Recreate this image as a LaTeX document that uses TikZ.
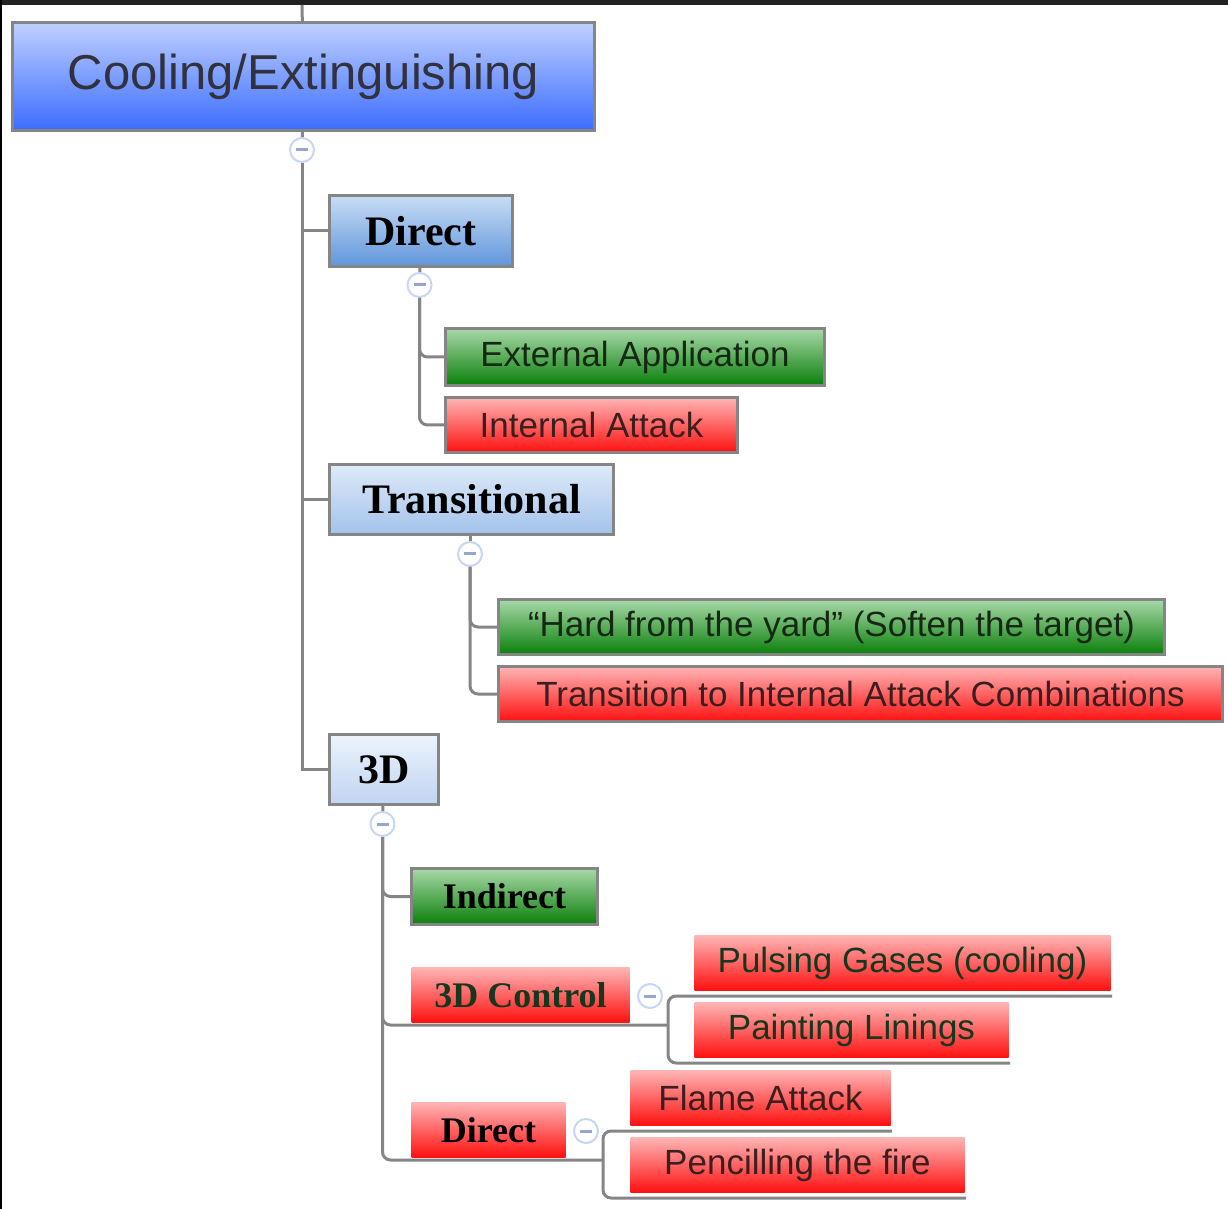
\documentclass[tikz,border=0pt]{standalone}
\usepackage{fontspec}
\setmainfont{Liberation Serif}
\setsansfont{Liberation Sans}
\usepackage{xcolor}
\definecolor{linkgray}{RGB}{133,133,133}
\definecolor{framedark}{RGB}{34,34,34}
\definecolor{roottop}{RGB}{192,208,255}
\definecolor{rootbot}{RGB}{58,108,255}
\definecolor{roottext}{RGB}{50,50,62}
\definecolor{dirtop}{RGB}{200,220,244}
\definecolor{dirbot}{RGB}{96,150,220}
\definecolor{transtop}{RGB}{222,234,248}
\definecolor{transbot}{RGB}{164,194,236}
\definecolor{tdtop}{RGB}{236,243,252}
\definecolor{tdbot}{RGB}{192,212,242}
\definecolor{greentop}{RGB}{168,216,168}
\definecolor{greenbot}{RGB}{10,128,10}
\definecolor{redtop}{RGB}{255,180,180}
\definecolor{redbot}{RGB}{255,16,16}
\definecolor{greentext}{RGB}{20,40,20}
\definecolor{redtext}{RGB}{60,30,30}
\definecolor{darkgreentext}{RGB}{20,55,30}
\definecolor{togglerim}{RGB}{200,214,245}
\definecolor{minusblue}{RGB}{150,165,210}
\tikzset{
    box/.style={draw=linkgray, line width=1.5pt, anchor=north west, inner sep=0pt},
    rootbox/.style={box, top color=roottop, bottom color=rootbot, text=roottext,
        font=\sffamily\fontsize{24.5}{28}\selectfont},
    bluebox/.style 2 args={box, top color=#1, bottom color=#2,
        font=\bfseries\fontsize{21}{24}\selectfont},
    greenbox/.style={box, top color=greentop, bottom color=greenbot, text=greentext},
    redbox/.style={box, top color=redtop, bottom color=redbot, text=redtext},
    flatred/.style={redbox, draw=none},
    itemtext/.style={font=\sffamily\fontsize{17.5}{20}\selectfont},
    headtext/.style={font=\bfseries\fontsize{18}{21}\selectfont},
    link/.style={draw=linkgray, line width=1.5pt},
    toggle/.style={circle, draw=togglerim, fill=white, line width=1pt,
        minimum size=12pt, inner sep=0pt},
    minusbar/.style={draw=minusblue, line width=1.5pt}
}

\begin{document}
\begin{tikzpicture}[x=0.5pt, y=-0.5pt]
    \useasboundingbox (0,0) rectangle (1228,1209);
    \fill[framedark] (0,0) rectangle (1228,5);
    \fill[black] (0,0) rectangle (2,1209);

    % boxes
    \node[rootbox, minimum width=291pt, minimum height=54pt] (root) at (11,21) {Cooling/Extinguishing};
    \node[bluebox={dirtop}{dirbot}, minimum width=91.5pt, minimum height=35.5pt] (direct) at (328,194) {Direct};
    \node[bluebox={transtop}{transbot}, minimum width=142pt, minimum height=35pt] (trans) at (328,463) {Transitional};
    \node[bluebox={tdtop}{tdbot}, minimum width=54.5pt, minimum height=35pt] (threed) at (328,733) {3D};
    \node[greenbox, itemtext, minimum width=189.5pt, minimum height=28.5pt] (extapp) at (444,327) {External Application};
    \node[redbox, itemtext, minimum width=146pt, minimum height=27.5pt] (intatt) at (444,396) {Internal Attack};
    \node[greenbox, itemtext, minimum width=333pt, minimum height=27.5pt] (hard) at (497,598) {“Hard from the yard” (Soften the target)};
    \node[redbox, itemtext, minimum width=362pt, minimum height=27.5pt] (transint) at (497,665) {Transition to Internal Attack Combinations};
    \node[greenbox, headtext, text=black, minimum width=93pt, minimum height=28pt] (indirect) at (410,867) {Indirect};
    \node[flatred, headtext, text=darkgreentext, minimum width=109pt, minimum height=27.5pt] (ctrl) at (410,966) {3D Control};
    \node[flatred, itemtext, text=darkgreentext, minimum width=208pt, minimum height=27.5pt] (pulse) at (693,934) {Pulsing Gases (cooling)};
    \node[flatred, itemtext, text=darkgreentext, minimum width=157pt, minimum height=27.5pt] (paint) at (693,1001) {Painting Linings};
    \node[flatred, headtext, text=black, minimum width=77pt, minimum height=27.5pt] (ldirect) at (410,1101) {Direct};
    \node[flatred, itemtext, minimum width=130pt, minimum height=27.5pt] (flame) at (629,1069) {Flame Attack};
    \node[flatred, itemtext, minimum width=167pt, minimum height=27.5pt] (pencil) at (629,1136) {Pencilling the fire};

    % collapse buttons
    \node[toggle] (tgl1) at (302,150) {};
    \node[toggle] (tgl2) at (419.5,285) {};
    \node[toggle] (tgl3) at (470,554) {};
    \node[toggle] (tgl4) at (382.5,824) {};
    \node[toggle] (tgl5) at (650,996) {};
    \node[toggle] (tgl6) at (586,1131) {};
    \foreach \t in {tgl1,tgl2,tgl3,tgl4,tgl5,tgl6}
        \draw[minusbar] ([xshift=-3pt]\t.center) -- ([xshift=3pt]\t.center);

    % connectors
    \coordinate (feed) at (302,5);
    \coordinate (ctrlfork) at (668,1025);
    \coordinate (ldfork) at (603,1160);
    \draw[link] (feed) -- (root);
    \draw[link] (root) -- (tgl1);
    \draw[link] (tgl1) |- (direct.west);
    \draw[link] (tgl1) |- (trans.west);
    \draw[link] (tgl1) |- (threed.west);
    \draw[link] (direct) -- (tgl2);
    \draw[link, rounded corners=4pt] (tgl2) |- (extapp.west);
    \draw[link, rounded corners=4pt] (tgl2) |- (intatt.west);
    \draw[link] (trans.south -| tgl3) -- (tgl3);
    \draw[link, rounded corners=4pt] (tgl3) |- (hard.west);
    \draw[link, rounded corners=4pt] (tgl3) |- (transint.west);
    \draw[link] (threed) -- (tgl4);
    \draw[link, rounded corners=4pt] (tgl4) |- (indirect.west);
    \draw[link, rounded corners=4pt] (tgl4) |- (ctrlfork);
    \draw[link, rounded corners=4pt] (tgl4) |- (ldfork);
    \draw[link, rounded corners=4pt] ([yshift=-2pt]pulse.south east) -| (ctrlfork) |- ([yshift=-2pt]paint.south east);
    \draw[link, rounded corners=4pt] ([yshift=-2pt]flame.south east) -| (ldfork) |- ([yshift=-2pt]pencil.south east);
\end{tikzpicture}
\end{document}
